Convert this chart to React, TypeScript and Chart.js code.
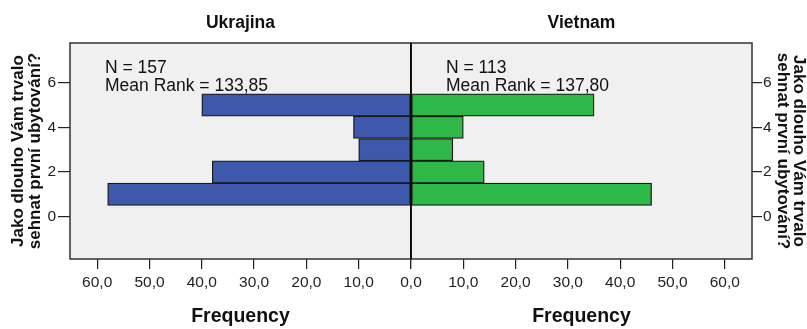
import React, { useEffect, useRef } from "react";
import { Chart, registerables } from "chart.js";

Chart.register(...registerables);

// ---- data ----
const bins = [1, 2, 3, 4, 5];
const ukrajinaFreq = [58, 38, 10, 11, 40];
const vietnamFreq = [46, 14, 8, 10, 35];
const yTicks = [0, 2, 4, 6];
const xTicks = [0, 10, 20, 30, 40, 50, 60];
const groupTitles = ["Ukrajina", "Vietnam"];
const groupN = [157, 113];
const groupMeanRank = ["133,85", "137,80"];
const yTitle = ["Jako dlouho Vám trvalo", "sehnat první ubytování?"];
const xTitle = "Frequency";

const W = 807;
const H = 329;
const SPLIT = 411;
const PLOT_RIGHT = 752;

const FONT = "'Liberation Sans', Arial, sans-serif";

const panelPlugin = {
  id: "panelDeco",
  beforeDatasetsDraw(chart: any) {
    const { ctx, chartArea } = chart;
    ctx.save();
    ctx.fillStyle = "#F0F0F0";
    ctx.fillRect(chartArea.left, chartArea.top, chartArea.right - chartArea.left, chartArea.bottom - chartArea.top);
    ctx.restore();
  },
  afterDatasetsDraw(chart: any, _a: any, opts: any) {
    const { ctx, chartArea } = chart;
    ctx.save();
    ctx.strokeStyle = "#333";
    ctx.lineWidth = 1.5;
    ctx.strokeRect(chartArea.left, chartArea.top, chartArea.right - chartArea.left, chartArea.bottom - chartArea.top);
    // zero line
    ctx.strokeStyle = "#000";
    ctx.beginPath();
    const zx = opts.side === "left" ? chartArea.right : chartArea.left;
    ctx.moveTo(zx, chartArea.top);
    ctx.lineTo(zx, chartArea.bottom);
    ctx.stroke();
    // annotation text
    ctx.fillStyle = "#111";
    ctx.font = `17.5px ${FONT}`;
    ctx.textBaseline = "alphabetic";
    ctx.textAlign = "left";
    const tx = chartArea.left + 35;
    ctx.fillText(opts.line1, tx, chartArea.top + 30);
    ctx.fillText(opts.line2, tx, chartArea.top + 48);
    ctx.restore();
  },
};

function fmt(v: number) {
  return v.toFixed(1).replace(".", ",");
}

function makeConfig(side: "left" | "right"): any {
  const isLeft = side === "left";
  const idx = isLeft ? 0 : 1;
  const values = isLeft ? ukrajinaFreq : vietnamFreq;
  return {
    type: "bar",
    data: {
      datasets: [
        {
          data: bins.map((b, i) => ({ x: values[i], y: b })),
          backgroundColor: isLeft ? "#3E58AC" : "#2EB848",
          borderColor: "#1a1a1a",
          borderWidth: 1.3,
          borderSkipped: false,
          categoryPercentage: 1,
          barPercentage: 1,
        },
      ],
    },
    plugins: [panelPlugin],
    options: {
      responsive: false,
      animation: false,
      indexAxis: "y",
      layout: {
        padding: isLeft
          ? { left: 0, right: W - SPLIT, top: 0, bottom: 0 }
          : { left: SPLIT, right: 0, top: 0, bottom: 0 },
      },
      plugins: {
        legend: { display: false },
        tooltip: { enabled: false },
        panelDeco: {
          side,
          line1: `N = ${groupN[idx]}`,
          line2: `Mean Rank = ${groupMeanRank[idx]}`,
        },
        title: {
          display: true,
          text: groupTitles[idx],
          fullSize: false,
          color: "#111",
          font: { family: FONT, size: 17.5, weight: "bold", lineHeight: 1.2 },
          padding: { top: 12.5, bottom: 9.5 },
        },
      },
      scales: {
        x: {
          type: "linear",
          position: "bottom",
          min: 0,
          max: 65.2,
          reverse: isLeft,
          offset: false,
          afterBuildTicks: (scale: any) => {
            scale.ticks = xTicks.map((v) => ({ value: v }));
          },
          afterFit: (scale: any) => {
            scale.height = H - 259;
          },
          border: { display: false },
          grid: {
            offset: false,
            drawOnChartArea: false,
            drawTicks: true,
            tickLength: 10,
            color: "#222",
            lineWidth: 1.2,
          },
          ticks: {
            padding: 4,
            color: "#222",
            maxRotation: 0,
            font: { family: FONT, size: 15.5 },
            callback: (v: number) => (!isLeft && v === 0 ? "" : fmt(v)),
          },
          title: {
            display: true,
            text: xTitle,
            color: "#111",
            font: { family: FONT, size: 19.5, weight: "bold", lineHeight: 1.2 },
            padding: { top: 0, bottom: 0.5 },
          },
        },
        y: {
          type: "linear",
          position: isLeft ? "left" : "right",
          min: -1.9,
          max: 7.78,
          offset: false,
          afterBuildTicks: (scale: any) => {
            scale.ticks = yTicks.map((v) => ({ value: v }));
          },
          afterFit: (scale: any) => {
            scale.width = isLeft ? 70 : W - PLOT_RIGHT;
          },
          border: { display: false },
          grid: {
            offset: false,
            drawOnChartArea: false,
            drawTicks: true,
            tickLength: isLeft ? 12 : 10,
            color: "#222",
            lineWidth: 1.2,
          },
          ticks: {
            padding: isLeft ? 2 : 1,
            color: "#222",
            font: { family: FONT, size: 15.5 },
            callback: (v: number) => String(v),
          },
          title: {
            display: true,
            text: yTitle,
            color: "#111",
            font: { family: FONT, size: 17, weight: "bold", lineHeight: 0.95 },
            padding: { top: isLeft ? 10.7 : 0.5, bottom: 0 },
          },
        },
      },
    },
  };
}

export default function App() {
  const leftRef = useRef<HTMLCanvasElement | null>(null);
  const rightRef = useRef<HTMLCanvasElement | null>(null);

  useEffect(() => {
    document.body.style.margin = "0";
    const c1 = new Chart(leftRef.current as HTMLCanvasElement, makeConfig("left"));
    const c2 = new Chart(rightRef.current as HTMLCanvasElement, makeConfig("right"));
    return () => {
      c1.destroy();
      c2.destroy();
    };
  }, []);

  const canvasStyle: React.CSSProperties = {
    position: "absolute",
    left: 0,
    top: 0,
    width: W,
    height: H,
  };

  return (
    <div style={{ position: "relative", width: W, height: H, background: "#fff" }}>
      <canvas ref={leftRef} width={W} height={H} style={canvasStyle} />
      <canvas ref={rightRef} width={W} height={H} style={canvasStyle} />
    </div>
  );
}
